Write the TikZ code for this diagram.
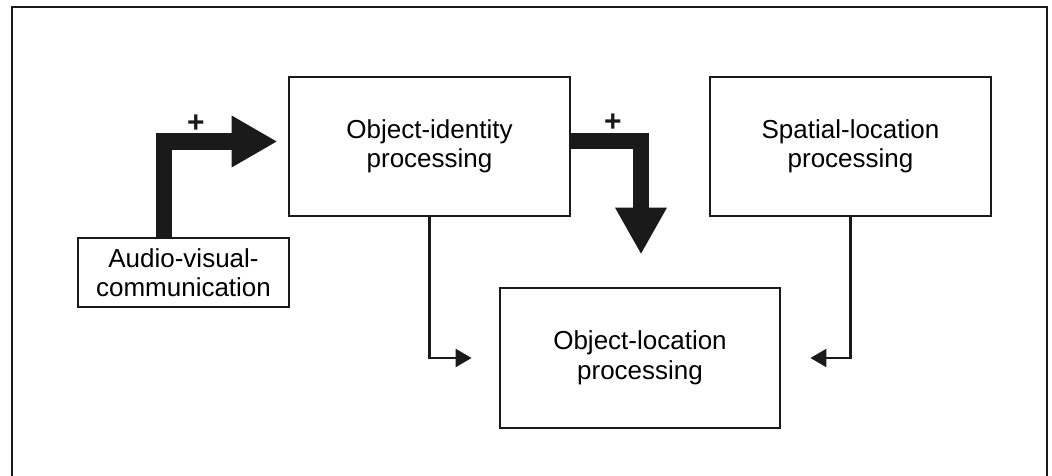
\documentclass[tikz,border=0pt]{standalone}
\usepackage{fontspec}
\setmainfont{Liberation Sans}
\usetikzlibrary{arrows.meta,calc}
\definecolor{ink}{HTML}{1A1A1A}
\tikzset{
  procbox/.style={draw=ink, line width=2.8pt, inner sep=0pt, align=center,
    font=\fontsize{26}{29.5}\selectfont},
  thickbar/.style={draw=ink, line width=16.5pt, line cap=butt, line join=miter},
  thinarrow/.style={draw=ink, line width=2.4pt, -{Triangle[length=16pt,width=18pt]}},
  plussign/.style={font=\fontsize{30}{30}\selectfont\bfseries, inner sep=0pt, text=ink},
  frameline/.style={draw=ink, line width=2.8pt}
}
\begin{document}
\begin{tikzpicture}[x=1pt,y=1pt]
\useasboundingbox (0,0) rectangle (1052,476);
% outer frame (bottom edge lies outside the picture)
\coordinate (f2) at (12,469);
\coordinate (f3) at (1047,469);
\draw[frameline] (12,-5) -- (f2) -- (f3) -- (1047,-5);

\node[procbox, minimum width=281pt, minimum height=139pt] (oi) at (429.5,329.5) {Object-identity\\processing};
\node[procbox, minimum width=281pt, minimum height=139pt] (sl) at (850.5,329.5) {Spatial-location\\processing};
\node[procbox, minimum width=211pt, minimum height=69pt] (av) at (183.5,203.5) {Audio-visual-\\communication};
\node[procbox, minimum width=280pt, minimum height=140pt] (ol) at (640,118) {Object-location\\processing};

% thick arrow 1
\coordinate (h1) at ([xshift=-56pt,yshift=5pt]oi.west);
\draw[thickbar] ([xshift=-19.5pt]av.north) |- (h1);
\fill[ink] ($(h1)+(0,26)$) -- ($(h1)+(45,0)$) -- ($(h1)+(0,-26)$) -- cycle;
\node[plussign] (p1) at (196,352) {+};

% thick arrow 2
\coordinate (h2) at ([xshift=1pt,yshift=79pt]ol.north);
\draw[thickbar] ([yshift=5.5pt]oi.east) -| (h2);
\fill[ink] ($(h2)+(-26,0)$) -- ($(h2)+(0,-46)$) -- ($(h2)+(26,0)$) -- cycle;
\node[plussign] (p2) at (613,353) {+};

% thin arrows
\draw[thinarrow, shorten >=27pt] (oi.south) |- (ol.west);
\draw[thinarrow, shorten >=29pt] (sl.south) |- (ol.east);
\end{tikzpicture}
\end{document}
